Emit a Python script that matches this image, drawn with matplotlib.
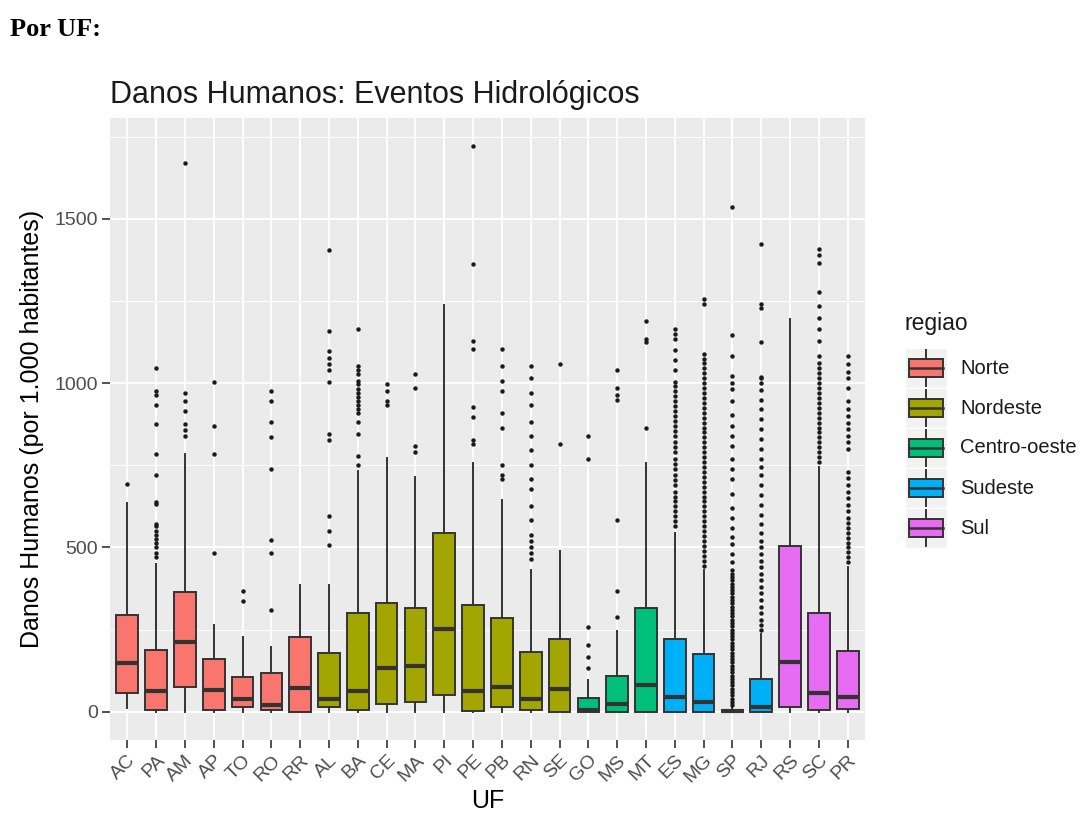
import matplotlib
matplotlib.use("Agg")
import matplotlib.pyplot as plt
from matplotlib.patches import Rectangle

plt.rcParams["font.family"] = ["Liberation Sans", "DejaVu Sans"]

# =========================
# dados
# =========================
uf = ["AC", "PA", "AM", "AP", "TO", "RO", "RR",
      "AL", "BA", "CE", "MA", "PI", "PE", "PB", "RN", "SE",
      "GO", "MS", "MT",
      "ES", "MG", "SP", "RJ",
      "RS", "SC", "PR"]
regiao_uf = ["Norte"] * 7 + ["Nordeste"] * 9 + ["Centro-oeste"] * 3 + ["Sudeste"] * 4 + ["Sul"] * 3

regioes = ["Norte", "Nordeste", "Centro-oeste", "Sudeste", "Sul"]
cores = ["#F8766D", "#A3A500", "#00BF7D", "#00B0F6", "#E76BF3"]

q1 = [56, 6, 75, 6, 13, 6, 0,
      13, 6, 25, 31, 50, 3, 13, 6, 0,
      0, 0, 0,
      0, 0, 0, 0,
      13, 6, 9]
mediana = [147, 63, 211, 66, 38, 21, 71,
           38, 63, 132, 138, 251, 63, 75, 38, 69,
           6, 23, 81,
           44, 31, 1, 13,
           150, 56, 44]
q3 = [294, 188, 363, 159, 107, 117, 226,
      178, 301, 332, 317, 543, 326, 286, 182, 222,
      41, 109, 316,
      222, 175, 6, 100,
      505, 301, 184]
whis_baixo = [12, 0, 0, 0, 0, 0, 0,
              0, 0, 0, 0, 0, 0, 0, 0, 0,
              0, 0, 0,
              0, 0, 0, 0,
              0, 0, 0]
whis_alto = [635, 451, 783, 263, 226, 197, 386,
             386, 733, 771, 714, 1237, 758, 645, 432, 489,
             96, 247, 758,
             545, 432, 15, 238,
             1194, 745, 439]

outliers = [
    [692],
    [470, 482, 501, 514, 526, 539, 551, 564, 570, 633, 639, 720, 783, 877, 934, 965, 977, 1046],
    [840, 858, 877, 915, 946, 969, 1670],
    [482, 783, 871, 1005],
    [338, 367],
    [310, 482, 523, 739, 836, 881, 946, 977],
    [],
    [508, 551, 595, 827, 846, 1003, 1040, 1059, 1078, 1097, 1159, 1404],
    [752, 777, 846, 883, 908, 920, 933, 946, 958, 971, 983, 996, 1008, 1028, 1040, 1053, 1165],
    [934, 946, 977, 996],
    [789, 808, 984, 1028],
    [],
    [815, 827, 896, 927, 1103, 1128, 1362, 1721],
    [708, 720, 752, 865, 908, 977, 1008, 1053, 1103],
    [464, 482, 501, 520, 539, 583, 627, 677, 708, 752, 796, 840, 883, 934, 971, 1015, 1053],
    [815, 1059],
    [132, 167, 203, 257, 768, 840],
    [288, 367, 585, 949, 965, 984, 1040],
    [865, 1124, 1134, 1190],
    [565, 580, 595, 610, 625, 640, 655, 670, 690, 705, 720, 740, 755, 770, 790, 805, 820,
     840, 855, 870, 885, 900, 915, 930, 945, 960, 975, 990, 1005, 1040, 1070, 1100, 1134, 1150, 1165],
    [445, 460, 475, 490, 505, 520, 535, 550, 565, 580, 595, 610, 625, 640, 655, 670, 685,
     700, 715, 730, 745, 760, 775, 790, 805, 820, 835, 850, 865, 880, 895, 910, 925, 940,
     955, 970, 985, 1000, 1015, 1030, 1045, 1060, 1075, 1090, 1240, 1255],
    [20, 30, 40, 50, 60, 70, 80, 90, 100, 110, 120, 130, 140, 150, 160, 170, 180, 190, 200,
     210, 220, 230, 240, 250, 260, 270, 280, 290, 300, 310, 320, 330, 340, 350, 360, 370,
     380, 390, 400, 410, 420, 430, 455, 480, 510, 533, 560, 590, 620, 664, 708, 740, 770,
     808, 840, 870, 902, 946, 983, 1000, 1021, 1084, 1147, 1535],
    [250, 265, 280, 300, 320, 340, 360, 380, 400, 420, 440, 460, 480, 500, 520, 545, 570,
     600, 630, 660, 690, 720, 745, 770, 800, 830, 860, 890, 920, 950, 980, 1000, 1015,
     1020, 1125, 1230, 1240, 1425],
    [],
    [760, 775, 790, 805, 820, 835, 850, 865, 880, 895, 910, 925, 940, 955, 970, 985, 1000,
     1015, 1030, 1045, 1060, 1084, 1128, 1165, 1197, 1234, 1278, 1366, 1391, 1407],
    [455, 470, 485, 500, 515, 530, 545, 560, 575, 590, 610, 630, 650, 670, 690, 710, 730,
     800, 820, 840, 860, 880, 900, 920, 946, 984, 1015, 1035, 1059, 1084],
]

# =========================
# figura
# =========================
fig = plt.figure(figsize=(10.89, 8.17), dpi=100)
W, H = 1089, 817


def px(x0, y0, x1, y1):
    # retângulo em pixels -> coordenadas da figura
    return [x0 / W, 1 - y1 / H, (x1 - x0) / W, (y1 - y0) / H]


ax = fig.add_axes(px(110, 118, 865, 740))
ax.set_facecolor("#EBEBEB")

stats = []
for i in range(len(uf)):
    stats.append({
        "med": mediana[i], "q1": q1[i], "q3": q3[i],
        "whislo": whis_baixo[i], "whishi": whis_alto[i],
        "fliers": outliers[i],
    })

pos = list(range(1, len(uf) + 1))
bp = ax.bxp(
    stats, positions=pos, widths=0.75, patch_artist=True, showcaps=False,
    boxprops=dict(edgecolor="#333333", linewidth=1.4),
    whiskerprops=dict(color="#333333", linewidth=1.4),
    medianprops=dict(color="#333333", linewidth=3),
    flierprops=dict(marker="o", markersize=3.2, markerfacecolor="#1A1A1A",
                    markeredgecolor="none", linestyle="none"),
    zorder=3,
)
for box, reg in zip(bp["boxes"], regiao_uf):
    box.set_facecolor(cores[regioes.index(reg)])

ax.set_xlim(0.4, len(uf) + 0.6)
ax.set_ylim(-86, 1807)
ax.set_yticks([0, 500, 1000, 1500])
ax.set_yticks([250, 750, 1250, 1750], minor=True)
ax.set_xticks(pos)
ax.set_xticklabels(uf, rotation=45, ha="right", rotation_mode="anchor")
ax.grid(True, which="major", color="white", linewidth=1.4, zorder=0)
ax.grid(True, which="minor", axis="y", color="white", linewidth=0.7, zorder=0)
ax.set_axisbelow(True)
for s in ax.spines.values():
    s.set_visible(False)
ax.tick_params(axis="both", which="major", colors="#333333", labelcolor="#4D4D4D",
               labelsize=14, length=6, width=1.2, pad=2.5)
ax.tick_params(axis="y", which="minor", length=0)

ax.set_xlabel("UF", fontsize=18, labelpad=2)
ax.set_ylabel("Danos Humanos (por 1.000 habitantes)", fontsize=18, labelpad=8)
ax.set_title("Danos Humanos: Eventos Hidrológicos", fontsize=22, loc="left", pad=11,
             color="#1A1A1A")

fig.text(10 / W, 1 - 30 / H, "Por UF:", family="Liberation Serif", weight="bold",
         fontsize=19, va="center")

# =========================
# legenda
# =========================
lax = fig.add_axes(px(905, 348, 947, 548))
lax.set_xlim(0, 1)
lax.set_ylim(0, 5)
lax.axis("off")
for i, (reg, cor) in enumerate(zip(regioes, cores)):
    y0 = 4 - i
    lax.add_patch(Rectangle((0, y0), 1, 1, facecolor="#F2F2F2", edgecolor="white", lw=1))
    lax.add_patch(Rectangle((0.1, y0 + 0.27), 0.8, 0.46, facecolor=cor,
                            edgecolor="#333333", lw=1.4, zorder=3))
    lax.plot([0.1, 0.9], [y0 + 0.5, y0 + 0.5], color="#333333", lw=1.8, zorder=4)
    lax.plot([0.5, 0.5], [y0 + 0.05, y0 + 0.27], color="#333333", lw=1.4)
    lax.plot([0.5, 0.5], [y0 + 0.73, y0 + 0.95], color="#333333", lw=1.4)
    fig.text(960 / W, 1 - (368 + 40 * i) / H, reg, fontsize=14.5, va="center",
             color="#1A1A1A")

fig.text(905 / W, 1 - 323 / H, "regiao", fontsize=16.5, va="center", color="#1A1A1A")

fig.savefig("out.png", dpi=100)
plt.close()
